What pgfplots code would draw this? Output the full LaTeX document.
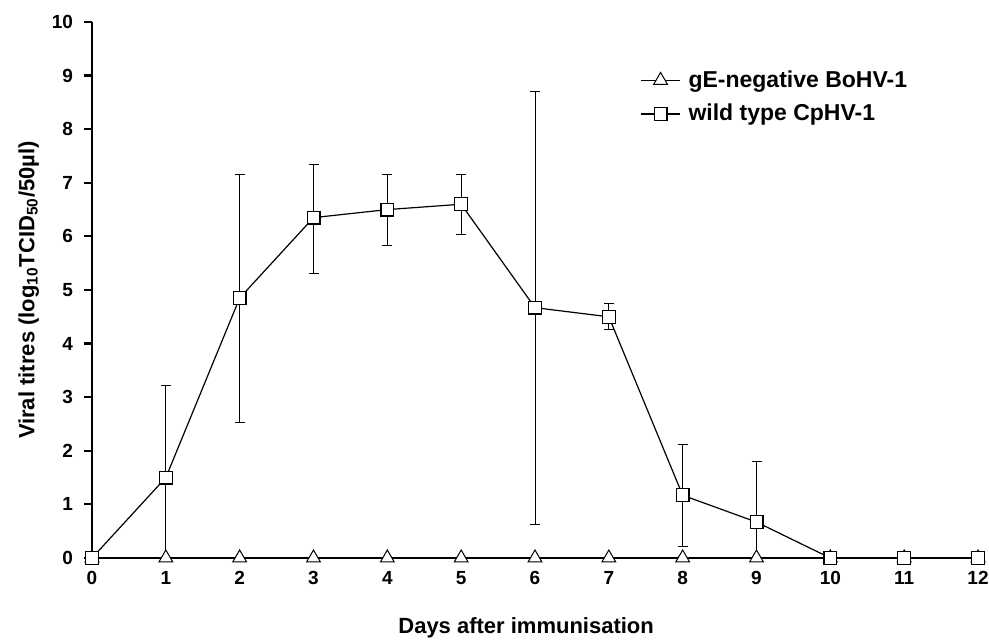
\documentclass[border=0pt]{standalone}
\usepackage{fontspec}
\setmainfont{Liberation Sans}
\usepackage{pgfplots}
\pgfplotsset{compat=1.18}

\begin{document}
\begin{tikzpicture}
\begin{axis}[
  name=ax,
  scale only axis,
  width=443pt,
  height=268pt,
  xmin=0, xmax=12,
  ymin=0, ymax=10,
  xtick={0,...,12},
  ytick={0,...,10},
  axis x line*=bottom,
  axis y line*=left,
  axis line style={line width=1.4pt,-},
  x axis line style={-},
  y axis line style={-},
  tick style={line width=1.1pt,black},
  xtick style={draw=none},
  ytick align=outside,
  major tick length=4pt,
  clip=false,
  font=\fontsize{9.5}{11}\selectfont\bfseries,
  /pgf/number format/assume math mode=true,
  xticklabel style={yshift=-3pt},
  yticklabel style={xshift=-2pt},
  xlabel={Days after immunisation},
  ylabel={Viral titres (log\textsubscript{10}TCID\textsubscript{50}/50µl)},
  label style={font=\fontsize{11}{13}\selectfont\bfseries},
  xlabel style={at={(axis description cs:0.49,0)},anchor=north,yshift=-26pt},
  ylabel style={at={(axis description cs:0,0.5)},anchor=south,yshift=23pt},
  legend style={draw=none,fill=none,at={(0.612,0.925)},anchor=north west,
    font=\fontsize{11.5}{13}\selectfont\bfseries,row sep=3pt,
    /tikz/every odd column/.append style={column sep=2pt}},
  legend cell align=left,
  legend image code/.code={%
    \draw[mark repeat=2,mark phase=2,sharp plot]
      plot coordinates {(0cm,0cm) (0.34cm,0cm) (0.68cm,0cm)};},
]
\addplot[black,line width=0.6pt,mark=triangle*,mark size=4pt,
  mark options={fill=white,line width=0.5pt}]
  coordinates {(0,0)(1,0)(2,0)(3,0)(4,0)(5,0)(6,0)(7,0)(8,0)(9,0)(10,0)(11,0)(12,0)};
\addlegendentry{gE-negative BoHV-1}
\addplot[black,line width=0.6pt,mark=square*,mark size=3.2pt,
  mark options={fill=white,line width=0.6pt},
  error bars/.cd, y dir=both, y explicit,
  error bar style={line width=0.5pt},
  error mark options={rotate=90,mark size=2.5pt,line width=0.5pt}]
  coordinates {
  (0,0) +- (0,0)
  (1,1.50) += (0,1.72) -= (0,1.50)
  (2,4.85) += (0,2.30) -= (0,2.32)
  (3,6.35) += (0,1.00) -= (0,1.05)
  (4,6.50) += (0,0.65) -= (0,0.67)
  (5,6.60) += (0,0.55) -= (0,0.57)
  (6,4.67) += (0,4.03) -= (0,4.05)
  (7,4.50) += (0,0.25) -= (0,0.23)
  (8,1.17) += (0,0.95) -= (0,0.95)
  (9,0.67) += (0,1.13) -= (0,0.67)
  (10,0) +- (0,0)
  (11,0) +- (0,0)
  (12,0) +- (0,0)
  };
\addlegendentry{wild type CpHV-1}
\end{axis}
\pgfresetboundingbox
\path[use as bounding box] ([shift={(-46pt,-41pt)}]ax.south west) rectangle ([shift={(5.5pt,11pt)}]ax.north east);
\end{tikzpicture}
\end{document}
